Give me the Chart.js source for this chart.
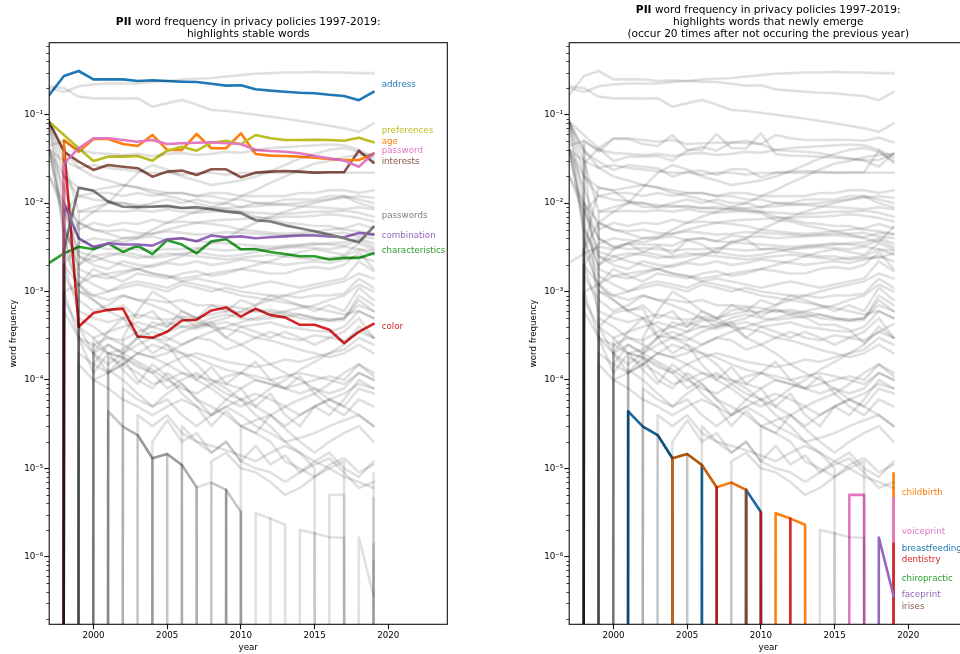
<!DOCTYPE html>
<html>
<head>
<meta charset="utf-8">
<title>PII word frequency in privacy policies 1997-2019</title>
<script src="https://cdn.jsdelivr.net/npm/chart.js@4.4.1/dist/chart.umd.min.js"></script>
<style>
  html, body { margin: 0; padding: 0; background: #fff; overflow: hidden; }
  body { width: 960px; height: 654px; position: relative; }
  .panel { position: absolute; top: 0; width: 480px; height: 654px; }
  #panel-stable { left: 0; }
  #panel-emerge { left: 520px; }
</style>
</head>
<body>
<div class="panel" id="panel-stable"><canvas id="chart-stable" width="480" height="654"></canvas></div>
<div class="panel" id="panel-emerge"><canvas id="chart-emerge" width="480" height="654"></canvas></div>
<script>
// --- data: word frequency per year (0 = word absent that year) ---
const years = [1997, 1998, 1999, 2000, 2001, 2002, 2003, 2004, 2005, 2006, 2007, 2008,
               2009, 2010, 2011, 2012, 2013, 2014, 2015, 2016, 2017, 2018, 2019];

// stable words (highlighted on the left)
const address = [0.167, 0.274, 0.312, 0.251, 0.251, 0.251, 0.240, 0.245, 0.240, 0.236, 0.234, 0.224, 0.213, 0.215, 0.194, 0.187, 0.182, 0.177, 0.175, 0.168, 0.163, 0.146, 0.181];
const preferences = [0.0833, 0.0589, 0.0417, 0.0299, 0.0335, 0.0335, 0.0341, 0.0302, 0.0392, 0.0435, 0.0392, 0.0482, 0.0508, 0.0463, 0.0589, 0.0541, 0.0517, 0.0517, 0.0521, 0.0517, 0.0508, 0.0549, 0.0487];
const age = [0, 0.0517, 0.0381, 0.0531, 0.0531, 0.0466, 0.0443, 0.0589, 0.0399, 0.0399, 0.0605, 0.0417, 0.0417, 0.0616, 0.0359, 0.0344, 0.0341, 0.0335, 0.0326, 0.0315, 0.0307, 0.0307, 0.0359];
const password = [0, 0.0282, 0.0417, 0.0541, 0.0541, 0.0517, 0.0495, 0.0517, 0.0466, 0.0475, 0.0482, 0.0487, 0.0475, 0.0466, 0.0399, 0.0388, 0.0381, 0.0366, 0.0341, 0.0321, 0.0302, 0.0258, 0.0366];
const interests = [0.0833, 0.0381, 0.0294, 0.0237, 0.027, 0.0258, 0.0248, 0.0199, 0.0227, 0.0233, 0.0208, 0.0241, 0.0241, 0.0196, 0.0221, 0.0227, 0.0231, 0.0227, 0.0221, 0.0223, 0.0223, 0.0392, 0.0286];
const passwords = [0, 0.003, 0.0149, 0.0138, 0.0104, 0.0091, 0.009, 0.0091, 0.0093, 0.0088, 0.009, 0.0085, 0.008, 0.0077, 0.0064, 0.0062, 0.0056, 0.0052, 0.0048, 0.0044, 0.004, 0.0036, 0.0054];
const combination = [0, 0.01, 0.004, 0.0032, 0.0035, 0.0034, 0.0034, 0.0033, 0.0039, 0.004, 0.0037, 0.0043, 0.0041, 0.0042, 0.004, 0.0041, 0.0042, 0.0043, 0.0043, 0.0042, 0.0041, 0.0046, 0.0044];
const characteristics = [0.0021, 0.0027, 0.0032, 0.003, 0.0035, 0.0028, 0.0033, 0.00265, 0.0038, 0.0034, 0.0027, 0.0037, 0.0039, 0.003, 0.003, 0.0028, 0.00265, 0.0025, 0.0025, 0.0023, 0.0024, 0.0024, 0.0027];
const color = [0, 0.045, 0.0004, 0.00057, 0.00062, 0.00064, 0.00031, 0.0003, 0.00035, 0.00047, 0.00048, 0.00061, 0.00066, 0.00052, 0.00064, 0.00054, 0.00051, 0.00042, 0.00042, 0.00037, 0.00026, 0.00035, 0.00043];

// newly emerging words (highlighted on the right)
const childbirth = [0, 0, 0, 0, 0, 0, 0, 1.3e-5, 1.45e-5, 1.09e-5, 6.1e-6, 6.9e-6, 5.7e-6, 0, 3.1e-6, 2.7e-6, 2.3e-6, 0, 0, 0, 0, 0, 8.8e-6];
const breastfeeding = [0, 0, 0, 0, 4.4e-5, 2.96e-5, 2.38e-5, 1.3e-5, 0, 1.09e-5, 0, 0, 5.7e-6, 3.2e-6, 0, 0, 0, 0, 0, 0, 0, 0, 0];
const dentistry = [0, 0, 0, 0, 0, 0, 0, 0, 0, 0, 6.1e-6, 0, 0, 3.2e-6, 0, 2.7e-6, 0, 0, 0, 0, 0, 0, 1.4e-6];
const voiceprint = [0, 0, 0, 0, 0, 0, 0, 0, 0, 0, 0, 0, 0, 0, 0, 0, 0, 0, 0, 5e-6, 5e-6, 0, 4.6e-6];
const faceprint = [0, 0, 0, 0, 0, 0, 0, 0, 0, 0, 0, 0, 0, 0, 0, 0, 0, 0, 0, 0, 0, 1.65e-6, 3.6e-7];
const chiropractic = [0, 0, 0, 0, 0, 0, 0, 0, 0, 0, 0, 0, 0, 0, 0, 0, 0, 0, 0, 0, 0, 0, 9e-7];
const irises = [0, 0, 0, 0, 0, 0, 0, 0, 0, 0, 0, 0, 5.7e-6, 0, 0, 0, 0, 0, 0, 0, 0, 0, 0];

// other PII words (grey in both panels)
const fullName = [0.2, 0.18, 0.21, 0.22, 0.225, 0.225, 0.225, 0.235, 0.24, 0.25, 0.255, 0.26, 0.27, 0.28, 0.29, 0.295, 0.3, 0.3, 0.305, 0.3, 0.3, 0.295, 0.295];
const information = [0.21, 0.2, 0.16, 0.153, 0.153, 0.152, 0.154, 0.123, 0.135, 0.147, 0.13, 0.113, 0.11, 0.105, 0.1, 0.095, 0.09, 0.085, 0.08, 0.075, 0.07, 0.064, 0.08];
const email = [0.045, 0.05, 0.04, 0.037, 0.036, 0.035, 0.036, 0.034, 0.036, 0.037, 0.035, 0.036, 0.038, 0.037, 0.04, 0.042, 0.043, 0.044, 0.045, 0.046, 0.045, 0.04, 0.033];
const homeLocation = [0.04, 0.03, 0.025, 0.027, 0.025, 0.024, 0.023, 0.022, 0.022, 0.021, 0.022, 0.022, 0.021, 0.022, 0.022, 0.022, 0.022, 0.022, 0.022, 0.022, 0.022, 0.022, 0.022];
const device = [0, 0.003, 0.006, 0.008, 0.01, 0.015, 0.022, 0.027, 0.024, 0.02, 0.018, 0.016, 0.017, 0.018, 0.02, 0.023, 0.027, 0.032, 0.036, 0.04, 0.042, 0.038, 0.03];
const ipAddress = [0, 0, 0.002, 0.003, 0.0035, 0.004, 0.004, 0.005, 0.006, 0.007, 0.008, 0.009, 0.01, 0.012, 0.014, 0.017, 0.02, 0.024, 0.028, 0.03, 0.033, 0.035, 0.036];
const phone = [0.04, 0.02, 0.012, 0.013, 0.013, 0.012, 0.013, 0.012, 0.013, 0.013, 0.012, 0.013, 0.013, 0.012, 0.012, 0.012, 0.012, 0.013, 0.013, 0.014, 0.014, 0.013, 0.014];
const contact = [0.083, 0.03, 0.008, 0.009, 0.01, 0.01, 0.009, 0.01, 0.011, 0.01, 0.011, 0.01, 0.01, 0.009, 0.01, 0.01, 0.011, 0.011, 0.011, 0.012, 0.012, 0.011, 0.01];
const account = [0, 0, 0.008, 0.008, 0.0082, 0.008, 0.0083, 0.008, 0.0085, 0.008, 0.0078, 0.008, 0.0082, 0.008, 0.0078, 0.0076, 0.0075, 0.0078, 0.008, 0.008, 0.0082, 0.0078, 0.007];
const mailing = [0.083, 0.04, 0.025, 0.02, 0.018, 0.016, 0.015, 0.013, 0.012, 0.011, 0.01, 0.009, 0.0085, 0.008, 0.007, 0.0065, 0.006, 0.0058, 0.0055, 0.0055, 0.005, 0.0048, 0.0045];
const zip = [0.04, 0.015, 0.005, 0.006, 0.0055, 0.006, 0.0058, 0.0065, 0.006, 0.0062, 0.006, 0.0063, 0.0065, 0.0066, 0.0068, 0.0068, 0.007, 0.007, 0.0072, 0.0075, 0.0072, 0.0068, 0.0062];
const identifiers = [0, 0.001, 0.0012, 0.0015, 0.0014, 0.0016, 0.0018, 0.002, 0.0022, 0.0025, 0.003, 0.0035, 0.004, 0.005, 0.006, 0.007, 0.008, 0.009, 0.01, 0.011, 0.012, 0.01, 0.009];
const creditCard = [0.02, 0.01, 0.006, 0.005, 0.0048, 0.005, 0.0046, 0.0045, 0.0048, 0.0046, 0.0044, 0.0045, 0.0047, 0.0046, 0.0045, 0.0044, 0.0043, 0.0044, 0.0045, 0.0045, 0.0046, 0.0042, 0.004];
const gender = [0.02, 0.008, 0.004, 0.0032, 0.003, 0.0031, 0.003, 0.0029, 0.003, 0.003, 0.0031, 0.003, 0.0029, 0.003, 0.0031, 0.003, 0.0031, 0.0032, 0.0031, 0.003, 0.0032, 0.003, 0.0029];
const income = [0, 0.005, 0.0025, 0.002, 0.0018, 0.0022, 0.002, 0.0019, 0.0021, 0.002, 0.0022, 0.002, 0.0021, 0.0023, 0.0022, 0.0021, 0.002, 0.0021, 0.0022, 0.0021, 0.0023, 0.0025, 0.0022];
const occupation = [0, 0, 0.0012, 0.0018, 0.0015, 0.0013, 0.0016, 0.0015, 0.0014, 0.0016, 0.0017, 0.0015, 0.0016, 0.0018, 0.0017, 0.0016, 0.0016, 0.0018, 0.0019, 0.0018, 0.002, 0.0028, 0.0018];
const birthdate = [0, 0.004, 0.0015, 0.0012, 0.001, 0.0011, 0.0012, 0.0011, 0.001, 0.0012, 0.0011, 0.001, 0.0011, 0.001, 0.00095, 0.0009, 0.0009, 0.00085, 0.0009, 0.0009, 0.00095, 0.0014, 0.0011];
const hobbies = [0, 0, 0.001, 0.0009, 0.0008, 0.0009, 0.0008, 0.0008, 0.00075, 0.0008, 0.0007, 0.0007, 0.00068, 0.00065, 0.0006, 0.00058, 0.00055, 0.0005, 0.00048, 0.00046, 0.00048, 0.0009, 0.0007];
const ethnicity = [0, 0.002, 0.0006, 0.0005, 0.00045, 0.0005, 0.00055, 0.0005, 0.00048, 0.00052, 0.0005, 0.00055, 0.0006, 0.00058, 0.0006, 0.00062, 0.00058, 0.00055, 0.0005, 0.00048, 0.0005, 0.0007, 0.0006];
const geolocation = [0, 0, 0, 0.0002, 0.00015, 0.0002, 0.00025, 0.0003, 0.00028, 0.00035, 0.0004, 0.00045, 0.0005, 0.0006, 0.0007, 0.0008, 0.0009, 0.001, 0.0011, 0.0012, 0.0013, 0.0016, 0.0014];
const signature = [0, 0.001, 0.0003, 0.00025, 0.0002, 0.00022, 0.0003, 0.00035, 0.0003, 0.00025, 0.0003, 0.00028, 0.00022, 0.00025, 0.0003, 0.00035, 0.0003, 0.00028, 0.00032, 0.0003, 0.00035, 0.0005, 0.0003];
const nationality = [0, 0, 0.0004, 0.0003, 0.00035, 0.0004, 0.00045, 0.0004, 0.00035, 0.0004, 0.00038, 0.00042, 0.00045, 0.0004, 0.00042, 0.00045, 0.0004, 0.00038, 0.00036, 0.00035, 0.0004, 0.0006, 0.0005];
const religion = [0, 0, 0, 0.0003, 0.0002, 0.00018, 0.00015, 0.00012, 0.00015, 0.00018, 0.0002, 0.00018, 0.00016, 0.00015, 0.00014, 0.00015, 0.00017, 0.00016, 0.00018, 0.0002, 0.00022, 0.0003, 0.00025];
const employer = [0, 0, 0, 0.0002, 0.00025, 0.0002, 0.00016, 0.00013, 0.0001, 0.00012, 0.00011, 0.0001, 0.00009, 0.00008, 0.0001, 0.00009, 0.00008, 0.00007, 0.00008, 0.00007, 0.00008, 0.00012, 0.0001];
const fax = [0, 0, 0.0002, 0.00015, 0.00012, 0.00018, 0.00014, 0.00012, 0.00008, 0.0001, 0.00012, 0.00009, 0.00007, 0.00006, 0.00005, 0.00004, 0.00003, 0.00004, 0.00005, 0.00006, 0.00005, 0.00008, 0.00007];
const education = [0, 0, 0, 0, 0.00018, 0.00015, 0.00012, 0.00009, 0.0001, 0.00008, 0.00007, 0.00009, 0.00011, 0.00012, 0.0001, 0.00009, 0.00008, 0.00009, 0.0001, 0.00011, 0.0001, 0.00015, 0.00012];
const photograph = [0, 0, 0, 0, 0.00013, 0.0001, 0.00007, 0.00005, 0.00006, 0.00004, 0.00003, 0.00004, 0.00005, 0.00004, 0.00003, 0.000025, 0.00002, 0.000022, 0.000025, 0.00003, 0.000035, 0.00004, 0.00003];
const salary = [0, 0, 0, 0, 0, 0.00008, 0.00006, 0.00005, 0.00007, 0.00009, 0.00006, 0.00005, 0.00004, 0.00003, 0.000035, 0.00004, 0.00005, 0.00006, 0.00007, 0.00005, 0.00004, 0.00006, 0.00005];
const marital = [0, 0, 0, 0, 0, 0, 0.00004, 0.00003, 0.00004, 0.000025, 0.00002, 0.000018, 0.000016, 0.000014, 0.000012, 0.000015, 0.000018, 0.000015, 0.000012, 0.00001, 0.000008, 0.000007, 0.000006];
const fingerprint = [0, 0, 0, 0, 0, 2.96e-5, 2.38e-5, 1.3e-5, 1.45e-5, 1.09e-5, 6.1e-6, 0, 0, 0, 0, 0, 0, 0, 0, 0, 0, 0, 0];
const pager = [0, 0, 0, 0, 4.4e-5, 2.96e-5, 2.38e-5, 1.3e-5, 1.45e-5, 0, 0, 0, 0, 0, 0, 0, 0, 0, 0, 0, 0, 0, 0];
const maiden = [0, 0, 0, 0, 0, 0, 2.38e-5, 1.3e-5, 1.45e-5, 1.09e-5, 6.1e-6, 0, 0, 0, 0, 0, 0, 0, 0, 0, 0, 0, 0];
const weight = [0, 0, 0, 0, 0, 0, 0, 0, 1.45e-5, 1.09e-5, 0, 0, 0, 0, 0, 0, 0, 0, 0, 0, 0, 0, 0];
const bodyHeight = [0, 0, 0, 0, 0, 0, 0, 0, 0, 0, 0, 6.9e-6, 5.7e-6, 3.2e-6, 0, 0, 0, 0, 0, 0, 0, 0, 0];
const tattoo = [0, 0, 0, 0, 0, 0, 0, 0, 0, 0, 0, 0, 0, 0, 0, 0, 0, 2.0e-6, 1.84e-6, 1.66e-6, 1.64e-6, 0, 0];
const retina = [0, 0, 0, 0, 0, 0, 0, 0, 0, 0, 0, 0, 0, 0, 0, 0, 0, 0, 1.84e-6, 0, 0, 0, 0];
const handwriting = [0, 0, 0, 0, 0, 0, 0, 0, 0, 0, 0, 0, 5.7e-6, 0, 0, 0, 0, 0, 0, 0, 0, 0, 0];
const dna = [0, 0, 0, 0, 0, 0, 0, 1.3e-5, 0, 0, 0, 0, 0, 0, 0, 0, 0, 0, 0, 0, 0, 0, 0];
const householdIncome = [0, 0, 0, 0, 0, 0, 0, 0, 0, 0.00003, 0.00002, 0.000015, 0.00002, 0.000012, 0.00001, 0.000009, 0.000007, 0.000009, 0.000012, 0.000015, 0.00001, 0.000008, 0.000012];
const politics = [0, 0, 0, 0, 0, 0, 0, 0, 0, 0, 0, 0.000012, 0.000015, 0.00001, 0.000009, 0.000007, 0.000005, 0.000006, 0.000008, 0.000011, 0.000013, 0.000009, 0.000011];
const browser = [0, 0.0015, 0.0008, 0.0006, 0.0007, 0.0009, 0.0008, 0.0007, 0.0006, 0.0005, 0.00045, 0.0004, 0.00038, 0.00035, 0.0003, 0.00028, 0.00025, 0.00022, 0.0002, 0.00018, 0.0002, 0.00025, 0.0002];
const mobile = [0, 0, 0.0005, 0.0004, 0.0003, 0.00025, 0.0002, 0.00018, 0.0002, 0.00025, 0.0003, 0.00035, 0.0004, 0.00045, 0.0005, 0.00055, 0.0006, 0.00065, 0.0007, 0.0008, 0.0009, 0.0012, 0.001];
const biometric = [0, 0, 0, 0.0001, 0.00012, 0.00015, 0.0002, 0.00018, 0.00015, 0.00012, 0.0001, 0.00008, 0.00006, 0.00005, 0.00006, 0.00008, 0.0001, 0.00013, 0.00016, 0.0002, 0.00025, 0.0004, 0.0003];
const jobTitle = [0, 0.003, 0.0012, 0.0009, 0.001, 0.0012, 0.0013, 0.0012, 0.0011, 0.0013, 0.0014, 0.0013, 0.0012, 0.0011, 0.0012, 0.0013, 0.0012, 0.0011, 0.0012, 0.0013, 0.0014, 0.0022, 0.0017];
const username = [0.083, 0.01, 0.0025, 0.0022, 0.0025, 0.0028, 0.0026, 0.0024, 0.0025, 0.0027, 0.0028, 0.0026, 0.0025, 0.0026, 0.0028, 0.003, 0.0032, 0.0033, 0.0034, 0.0035, 0.0036, 0.004, 0.0035];
const health = [0, 0, 0, 0.00025, 0.0003, 0.00028, 0.00035, 0.0004, 0.00045, 0.0004, 0.00042, 0.0005, 0.00055, 0.0005, 0.00048, 0.0005, 0.00052, 0.00055, 0.0005, 0.00048, 0.0005, 0.0008, 0.0006];
const spouse = [0, 0.0008, 0.0004, 0.0002, 0.00012, 0.00015, 0.0002, 0.00025, 0.00022, 0.0002, 0.00018, 0.00015, 0.00013, 0.00012, 0.00011, 0.0001, 0.00011, 0.00012, 0.00011, 0.0001, 0.00009, 0.00012, 0.0001];
const license = [0, 0, 0.00015, 0.0001, 0.00008, 0.00006, 0.00005, 0.00004, 0.00005, 0.00006, 0.00005, 0.00004, 0.00005, 0.00006, 0.00007, 0.00006, 0.00005, 0.00004, 0.00005, 0.00006, 0.00007, 0.00009, 0.00008];
const purchases = [0.04, 0.006, 0.0018, 0.0015, 0.0016, 0.0017, 0.0018, 0.0016, 0.0015, 0.0014, 0.0015, 0.0016, 0.0017, 0.0018, 0.002, 0.0022, 0.0025, 0.0028, 0.003, 0.0028, 0.0026, 0.0035, 0.003];
const modem = [0, 0, 0, 0, 0, 0.0003, 0.0006, 0.001, 0.0008, 0.0006, 0.0005, 0.0004, 0.0003, 0.00025, 0.0002, 0.00015, 0.00012, 0.0001, 0.00008, 0.00006, 0.00005, 0.00004, 0.00003];
const ssn = [0.083, 0.004, 0.001, 0.0008, 0.0006, 0.0005, 0.0004, 0.0003, 0.00025, 0.0002, 0.00015, 0.0001, 0.00008, 0.00006, 0.00004, 0.00003, 0.00002, 0.000015, 0.00001, 0, 0, 0, 0];
const voice = [0, 0, 0, 0, 0, 0, 0, 0, 0, 0, 0, 0, 0, 0.00003, 0.000025, 0.00002, 0.000012, 0.00001, 0.000008, 0.00001, 0.000012, 0, 0];
const citizenship = [0, 0.002, 0.0035, 0.004, 0.0038, 0.0036, 0.004, 0.0042, 0.0038, 0.004, 0.0037, 0.0036, 0.0035, 0.0034, 0.0033, 0.0032, 0.0033, 0.0034, 0.0035, 0.0034, 0.0033, 0.0038, 0.0032];
const race = [0.04, 0.008, 0.0028, 0.0025, 0.0027, 0.0026, 0.0024, 0.0025, 0.0027, 0.0026, 0.0025, 0.0024, 0.0023, 0.0024, 0.0025, 0.0026, 0.0025, 0.0024, 0.0023, 0.0024, 0.0025, 0.003, 0.0026];
const social = [0, 0, 0.006, 0.005, 0.0045, 0.004, 0.0042, 0.0045, 0.005, 0.0055, 0.006, 0.0058, 0.0055, 0.005, 0.0048, 0.0046, 0.0045, 0.0046, 0.0048, 0.005, 0.0052, 0.0058, 0.0052];
const children = [0.083, 0.02, 0.015, 0.014, 0.015, 0.016, 0.015, 0.014, 0.013, 0.013, 0.012, 0.012, 0.011, 0.011, 0.01, 0.0098, 0.0095, 0.0092, 0.009, 0.0088, 0.0085, 0.009, 0.0085];
const postal = [0, 0.008, 0.012, 0.011, 0.0105, 0.01, 0.0095, 0.0093, 0.009, 0.0088, 0.0086, 0.0085, 0.0088, 0.009, 0.0092, 0.0095, 0.0098, 0.01, 0.0105, 0.011, 0.0115, 0.012, 0.0115];
const sexualOrientation = [0, 0, 0, 0.00015, 0.00025, 0.0002, 0.0003, 0.00045, 0.0004, 0.0006, 0.0005, 0.0007, 0.0006, 0.0008, 0.0007, 0.0009, 0.0008, 0.0007, 0.0006, 0.0007, 0.0006, 0.0011, 0.0008];
const disability = [0, 0, 0.0003, 0.00012, 0.0002, 0.00018, 0.0001, 0.00008, 0.00012, 0.00009, 0.00006, 0.00004, 0.00006, 0.00008, 0.00005, 0.00007, 0.00004, 0.00003, 0.00005, 0.00004, 0.00006, 0.0001, 0.00008];
const medical = [0, 0.0006, 0.0003, 0.0002, 0.00035, 0.0005, 0.0003, 0.0002, 0.00025, 0.00015, 0.0001, 0.00014, 0.00009, 0.00012, 0.00016, 0.0001, 0.00008, 0.00011, 0.00007, 0.00009, 0.00012, 0.00015, 0.00011];
const insurance = [0, 0, 0, 0, 0.0002, 0.00013, 0.00009, 0.00015, 0.00011, 0.00007, 0.00005, 0.00003, 0.000045, 0.00003, 0.000025, 0.00004, 0.000028, 0.00002, 0.000015, 0.00002, 0.000025, 0.00003, 0.00002];
const criminal = [0, 0, 0, 0, 0, 0, 0, 0.00002, 0.000035, 0.00002, 0.000025, 0.000015, 0.00002, 0.000012, 0.000018, 0.000011, 0.000014, 0.000009, 0.000011, 0.000013, 0.000009, 0.000006, 0.000007];
const credit = [0.04, 0.005, 0.002, 0.0025, 0.0022, 0.002, 0.0018, 0.0016, 0.0015, 0.0013, 0.0012, 0.0011, 0.001, 0.0009, 0.00085, 0.0008, 0.00075, 0.0007, 0.00065, 0.0006, 0.00055, 0.0006, 0.0005];
const bankAccount = [0, 0.002, 0.0012, 0.0008, 0.0006, 0.0007, 0.0005, 0.0006, 0.0004, 0.0005, 0.0004, 0.00045, 0.0003, 0.0004, 0.00035, 0.0003, 0.00035, 0.0003, 0.00025, 0.0003, 0.00028, 0.00035, 0.0003];

// highlighted words, in drawing order, with label anchors (word frequency)
const stableWords = ['address', 'characteristics', 'color', 'combination', 'passwords', 'interests', 'age', 'preferences', 'password'];
const stableColors = ['#1f77b4', '#2ca02c', '#d62728', '#9467bd', '#7f7f7f', '#8c564b', '#ff7f0e', '#bcbd22', '#e377c2'];
const stableLabelAt = [0.217, 0.00287, 0.000396, 0.00425, 0.00715, 0.0292, 0.0491, 0.0654, 0.0388];

const emergeWords = ['breastfeeding', 'childbirth', 'chiropractic', 'voiceprint', 'dentistry', 'irises', 'faceprint'];
const emergeColors = ['#1f77b4', '#ff7f0e', '#2ca02c', '#e377c2', '#d62728', '#8c564b', '#9467bd'];
const emergeLabelAt = [1.24e-6, 5.35e-6, 5.7e-7, 1.92e-6, 9.2e-7, 2.7e-7, 3.7e-7];

const xTicks = [2000, 2005, 2010, 2015, 2020];
const yTicks = [1e-6, 1e-5, 1e-4, 1e-3, 1e-2, 1e-1];

const stableTitle = ['PII word frequency in privacy policies 1997-2019:', 'highlights stable words'];
const emergeTitle = ['PII word frequency in privacy policies 1997-2019:', 'highlights words that newly emerge',
                     '(occur 20 times after not occuring the previous year)'];

// --- table of every word ---
const series = {
    address, preferences, age, password, interests, passwords, combination, characteristics, color,
    childbirth, breastfeeding, dentistry, voiceprint, faceprint, chiropractic, irises,
    fullName, information, email, homeLocation, device, ipAddress, phone, contact, account, mailing, zip,
    identifiers, creditCard, gender, income, occupation, birthdate, hobbies, ethnicity, geolocation,
    signature, nationality, religion, employer, fax, education, photograph, salary, marital,
    fingerprint, pager, maiden, weight, bodyHeight, tattoo, retina, handwriting, dna, householdIncome,
    politics, browser, mobile, biometric, jobTitle, username, health, spouse, license, purchases, modem,
    ssn, voice, citizenship, race, social, children, postal,
    sexualOrientation, disability, medical, insurance, criminal, credit, bankAccount
};

const FONT = '"DejaVu Sans", sans-serif';
const GREY = 'rgba(0, 0, 0, 0.12)';
const ZERO_FLOOR = 1e-300; // zero on a log axis: clipped like matplotlib does
const SUP = { '-': '\u207B', '0': '\u2070', '1': '\u00B9', '2': '\u00B2', '3': '\u00B3', '4': '\u2074',
              '5': '\u2075', '6': '\u2076', '7': '\u2077', '8': '\u2078', '9': '\u2079' };

const toPoints = values => values.map((v, i) => ({ x: years[i], y: v > 0 ? v : ZERO_FLOOR }));
const powerLabel = v => '10' + String(Math.round(Math.log10(v))).split('').map(c => SUP[c]).join('');

// --- titles, spines, minor ticks, axis names, end labels ---
const decorPlugin = {
    id: 'decor',
    afterDraw(chart, args, opts) {
        const { ctx, chartArea: a } = chart;
        const xs = chart.scales.x, ys = chart.scales.y;
        ctx.save();

        ctx.strokeStyle = '#111';
        ctx.lineWidth = 1.1;
        ctx.strokeRect(a.left, a.top, a.right - a.left, a.bottom - a.top);

        // minor log ticks
        ctx.lineWidth = 0.8;
        ctx.beginPath();
        for (let e = -8; e <= 0; e++) {
            for (let m = 2; m <= 9; m++) {
                const v = m * Math.pow(10, e);
                if (v < ys.min || v > ys.max) continue;
                const py = Math.round(ys.getPixelForValue(v)) + 0.5;
                ctx.moveTo(a.left - 2.8, py);
                ctx.lineTo(a.left, py);
            }
        }
        ctx.stroke();

        ctx.fillStyle = '#000';
        ctx.textBaseline = 'middle';

        // title, "PII" in bold
        const cx = (a.left + a.right) / 2;
        const n = opts.title.length;
        opts.title.forEach((line, k) => {
            const py = 33.8 - (n - 1 - k) * 12;
            const bold = line.startsWith('PII ') ? 'PII' : '';
            const rest = bold ? line.slice(3) : line;
            ctx.font = 'bold 10.6px ' + FONT;
            const wb = bold ? ctx.measureText(bold).width : 0;
            ctx.font = '10.6px ' + FONT;
            const wr = ctx.measureText(rest).width;
            const x0 = cx - (wb + wr) / 2;
            ctx.textAlign = 'left';
            if (bold) {
                ctx.font = 'bold 10.6px ' + FONT;
                ctx.fillText(bold, x0, py);
            }
            ctx.font = '10.6px ' + FONT;
            ctx.fillText(rest, x0 + wb, py);
        });

        // axis names
        ctx.font = '8.7px ' + FONT;
        ctx.textAlign = 'center';
        ctx.fillText('year', cx, 647.5);
        ctx.save();
        ctx.translate(14, (a.top + a.bottom) / 2);
        ctx.rotate(-Math.PI / 2);
        ctx.fillText('word frequency', 0, 0);
        ctx.restore();

        // labels next to highlighted lines
        ctx.textAlign = 'left';
        opts.labels.forEach(l => {
            ctx.fillStyle = l.color;
            ctx.fillText(l.text, xs.getPixelForValue(2019.55), ys.getPixelForValue(l.value));
        });
        ctx.restore();
    }
};

function makeChart(canvasId, highlight, colors, labelAt, titleLines) {
    const datasets = [];
    const lineStyle = { borderWidth: 2.6, pointRadius: 0, borderJoinStyle: 'round', borderCapStyle: 'round', clip: 0 };

    // grey words are drawn over the coloured ones (order 0 = on top)
    Object.keys(series).forEach(word => {
        if (highlight.includes(word)) return;
        datasets.push({ label: word, data: toPoints(series[word]), borderColor: GREY, order: 0, ...lineStyle });
    });
    highlight.forEach((word, i) => {
        datasets.push({ label: word, data: toPoints(series[word]), borderColor: colors[i],
                        order: highlight.length - i, ...lineStyle });
    });

    const labels = highlight.map((word, i) => ({ text: word, color: colors[i], value: labelAt[i] }));

    return new Chart(document.getElementById(canvasId), {
        type: 'line',
        data: { datasets },
        plugins: [decorPlugin],
        options: {
            responsive: false,
            maintainAspectRatio: false,
            devicePixelRatio: 1,
            animation: false,
            events: [],
            layout: { padding: { top: 42.7, right: 32.7, bottom: 0, left: 0 } },
            scales: {
                x: {
                    type: 'linear', min: 1997, max: 2024, bounds: 'data',
                    afterFit: s => { s.height = 29.7; },
                    afterBuildTicks: s => { s.ticks = xTicks.map(v => ({ value: v })); },
                    grid: { display: true, drawOnChartArea: false, drawTicks: true, tickLength: 4.9, tickColor: '#111', tickWidth: 1.1 },
                    border: { display: false },
                    ticks: { autoSkip: false, maxRotation: 0, padding: 1, color: '#000',
                             font: { family: FONT, size: 8.7 }, callback: v => String(v) }
                },
                y: {
                    type: 'logarithmic', min: 1.72e-7, max: 0.652, bounds: 'data',
                    afterFit: s => { s.width = 49.2; },
                    afterBuildTicks: s => { s.ticks = yTicks.map(v => ({ value: v })); },
                    grid: { display: true, drawOnChartArea: false, drawTicks: true, tickLength: 4.9, tickColor: '#111', tickWidth: 1.1 },
                    border: { display: false },
                    ticks: { autoSkip: false, padding: 1, color: '#000',
                             font: { family: FONT, size: 8.7 }, callback: v => powerLabel(v) }
                }
            },
            plugins: {
                legend: { display: false },
                tooltip: { enabled: false },
                decor: { title: titleLines, labels }
            }
        }
    });
}

makeChart('chart-stable', stableWords, stableColors, stableLabelAt, stableTitle);
makeChart('chart-emerge', emergeWords, emergeColors, emergeLabelAt, emergeTitle);
</script>
</body>
</html>
